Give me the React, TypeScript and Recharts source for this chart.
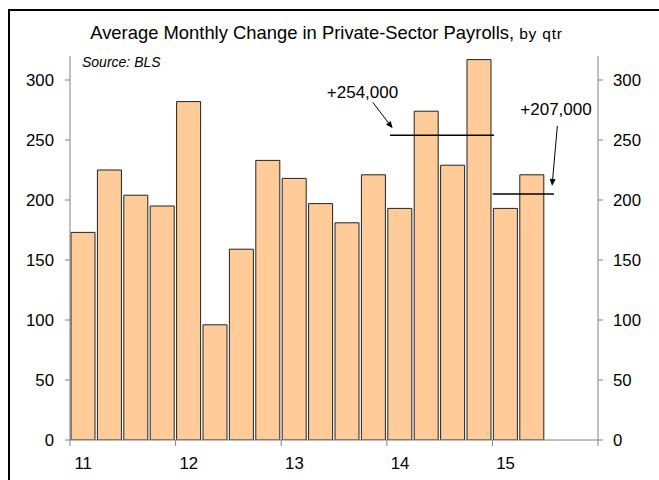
import React from 'react';
import { BarChart, Bar, XAxis, YAxis, ReferenceLine } from 'recharts';

const quarters = [
  '11Q1', '11Q2', '11Q3', '11Q4',
  '12Q1', '12Q2', '12Q3', '12Q4',
  '13Q1', '13Q2', '13Q3', '13Q4',
  '14Q1', '14Q2', '14Q3', '14Q4',
  '15Q1', '15Q2', '15Q3', '15Q4',
];
const payrolls: (number | null)[] = [
  173, 225, 204, 195,
  282, 96, 159, 233,
  218, 197, 181, 221,
  193, 274, 229, 317,
  193, 221, null, null,
];
const yTicks = [0, 50, 100, 150, 200, 250, 300];
const yDomain = [0, 320];
const yearTicks = [0, 4, 8, 12, 16, 20];
const xDomain = [0, 20];

// annotation values (thousands) and their placement in axis units
const avg2014 = 254;
const avg2015 = 205;
const label2014 = '+254,000';
const label2015 = '+207,000';
const avg2014Span = [12.12, 16.06];
const avg2015Span = [16.01, 18.33];
const arrow2014 = [{ x: 11.47, y: 281.4 }, { x: 12.22, y: 259.7 }];
const arrow2015 = [{ x: 18.46, y: 261.7 }, { x: 18.26, y: 211.7 }];
const label2014Pos = { x: 11.08, y: 289.2 };
const label2015Pos = { x: 18.41, y: 275.8 };

const data = quarters.map((q, i) => ({ q, v: payrolls[i] }));

const FONT = 'Arial, "Liberation Sans", sans-serif';
const AXIS_GRAY = '#808080';
const tickStyle = { fill: '#000', fontSize: 16.8, fontFamily: FONT };
const grayLine = { stroke: AXIS_GRAY };
const emptyFormatter = () => '';
const yearFormatter = (q: string) => (q.endsWith('Q1') ? q.slice(0, 2) : '');
const zeroKey = () => 0;

const Arrow = (props: any) => {
  const { x1, y1, x2, y2 } = props;
  const dx = x2 - x1;
  const dy = y2 - y1;
  const len = Math.sqrt(dx * dx + dy * dy) || 1;
  const ux = dx / len;
  const uy = dy / len;
  const hl = 7;
  const hw = 3;
  const bx = x2 - ux * hl;
  const by = y2 - uy * hl;
  const pts = `${x2},${y2} ${bx - uy * hw},${by + ux * hw} ${bx + uy * hw},${by - ux * hw}`;
  return (
    <g>
      <line x1={x1} y1={y1} x2={bx} y2={by} stroke="#000" strokeWidth={1} />
      <polygon points={pts} fill="#000" />
    </g>
  );
};

const makeLabel = (text: string) => (props: any) => (
  <text
    x={props.x1}
    y={props.y1}
    textAnchor="middle"
    dominantBaseline="central"
    fontFamily={FONT}
    fontSize={17}
    fill="#000"
  >
    {text}
  </text>
);
const Label2014 = makeLabel(label2014);
const Label2015 = makeLabel(label2015);

export default function App() {
  return (
    <div style={{ position: 'fixed', left: 0, top: 0, width: 659, height: 480, overflow: 'hidden', background: '#fff' }}>
      <div
        style={{
          position: 'absolute', left: 8, top: 9, width: 720, height: 520,
          borderLeft: '2px solid #000', borderTop: '2px solid #000', boxSizing: 'border-box',
        }}
      />
      <div
        style={{
          position: 'absolute', left: 0, top: 22, width: 653, textAlign: 'center',
          fontFamily: FONT, fontSize: 18.4, color: '#000', whiteSpace: 'nowrap', lineHeight: '22px',
        }}
      >
        Average Monthly Change in Private-Sector Payrolls,
        <span style={{ fontSize: 15.5, letterSpacing: 0.8 }}> by qtr</span>
      </div>
      <div
        style={{
          position: 'absolute', left: 82, top: 54, fontFamily: FONT, fontSize: 14,
          fontStyle: 'italic', color: '#000', lineHeight: '17px', whiteSpace: 'nowrap',
        }}
      >
        Source: BLS
      </div>
      <div style={{ position: 'absolute', left: 0, top: 0 }}>
        <BarChart width={659} height={480} data={data} margin={{ top: 56, right: 21, bottom: 10, left: 30 }}>
          <XAxis
            xAxisId="axA"
            type="number"
            dataKey={zeroKey}
            domain={xDomain}
            ticks={yearTicks}
            height={1}
            tickFormatter={emptyFormatter}
            tickSize={6}
            tickMargin={0}
            stroke={AXIS_GRAY}
            axisLine={grayLine}
            tickLine={grayLine}
            allowDataOverflow
          />
          <XAxis
            xAxisId="axB"
            dataKey="q"
            interval={0}
            axisLine={false}
            tickLine={false}
            tickSize={0}
            tickMargin={16}
            height={29}
            tickFormatter={yearFormatter}
            tick={tickStyle}
          />
          <YAxis
            yAxisId="left"
            domain={yDomain}
            ticks={yTicks}
            width={40}
            tickSize={5}
            tickMargin={11}
            axisLine={grayLine}
            tickLine={grayLine}
            tick={tickStyle}
            allowDataOverflow
          />
          <YAxis
            yAxisId="right"
            orientation="right"
            domain={yDomain}
            ticks={yTicks}
            width={40}
            tickSize={5}
            tickMargin={10}
            axisLine={grayLine}
            tickLine={grayLine}
            tick={tickStyle}
            allowDataOverflow
          />
          <Bar
            xAxisId="axB"
            yAxisId="left"
            dataKey="v"
            fill="#FFCC99"
            stroke="#222"
            strokeWidth={1}
            barSize={24}
            isAnimationActive={false}
          />
          <ReferenceLine
            xAxisId="axA"
            yAxisId="left"
            position="start"
            segment={[{ x: avg2014Span[0], y: avg2014 }, { x: avg2014Span[1], y: avg2014 }]}
            stroke="#000"
            strokeWidth={1.5}
          />
          <ReferenceLine
            xAxisId="axA"
            yAxisId="left"
            position="start"
            segment={[{ x: avg2015Span[0], y: avg2015 }, { x: avg2015Span[1], y: avg2015 }]}
            stroke="#000"
            strokeWidth={1.5}
          />
          <ReferenceLine xAxisId="axA" yAxisId="left" position="start" segment={arrow2014} shape={Arrow} />
          <ReferenceLine xAxisId="axA" yAxisId="left" position="start" segment={arrow2015} shape={Arrow} />
          <ReferenceLine
            xAxisId="axA"
            yAxisId="left"
            position="start"
            segment={[label2014Pos, label2014Pos]}
            shape={Label2014}
          />
          <ReferenceLine
            xAxisId="axA"
            yAxisId="left"
            position="start"
            segment={[label2015Pos, label2015Pos]}
            shape={Label2015}
          />
        </BarChart>
      </div>
    </div>
  );
}
